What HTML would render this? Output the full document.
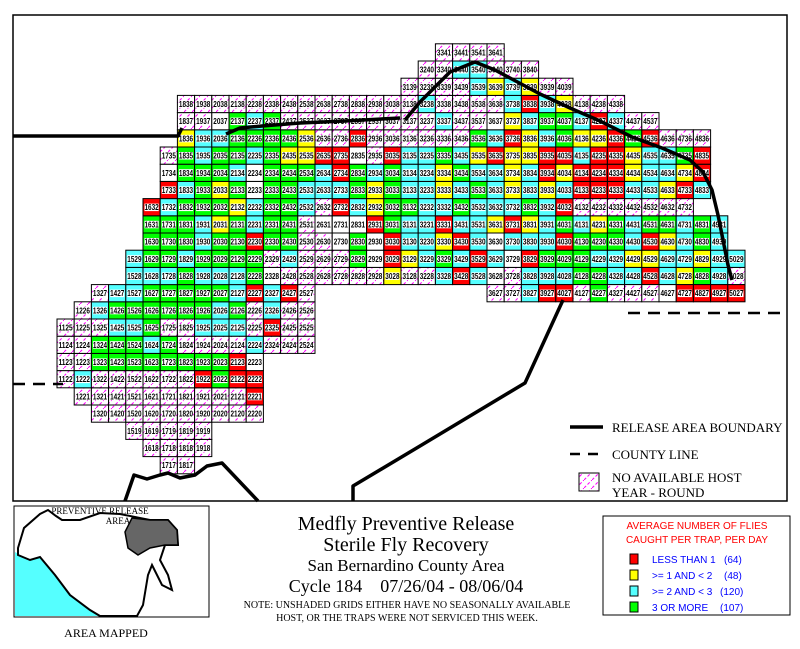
<!DOCTYPE html>
<html><head><meta charset="utf-8"><style>
body{margin:0;background:#fff;width:800px;height:649px;overflow:hidden}
svg{display:block}
</style></head><body>
<svg id="s" width="800" height="649" xmlns="http://www.w3.org/2000/svg" font-family="Liberation Serif, serif">
<defs>
<pattern id="h" width="8" height="8" patternUnits="userSpaceOnUse">
<rect width="8" height="8" fill="#fff"/>
<line x1="0" y1="8" x2="8" y2="0" stroke="#ff00ff" stroke-width="1" stroke-dasharray="3,2"/>
</pattern>
</defs>
<rect x="13" y="15" width="774" height="486" fill="none" stroke="#000" stroke-width="1.5"/>
<g id="grid"></g>
<g fill="none" stroke="#000" stroke-width="3.5" stroke-linejoin="round">
<polyline points="13,136 178,136 182,128"/>
<polyline points="226,134 240,128 262,126 300,123 345,121 400,118"/>
<polyline points="405,120 420,102 450,72 475,62 495,70 525,86 540,94 570,108 600,121 632,137 662,148 690,160 703,172 712,190 718,215 724,245 728,265 732,280"/>
<polyline points="125,501 134,475 147,479 160,475 168,473 180,478 195,475 207,466 222,463 258,501"/>
<polyline points="353,501 353,486 420,446 525,383 563,300"/>
</g>
<g stroke="#000" stroke-width="2.5" stroke-dasharray="12,8">
<line x1="13" y1="384" x2="63" y2="384"/>
<line x1="628" y1="313" x2="787" y2="313"/>
</g>
<line x1="570" y1="427" x2="603" y2="427" stroke="#000" stroke-width="3.5"/>
<line x1="570" y1="454" x2="603" y2="454" stroke="#000" stroke-width="2.5" stroke-dasharray="10,8"/>
<rect x="579" y="473" width="20" height="18" fill="url(#h)" stroke="#000"/>
<g font-size="13">
<text x="612" y="432">RELEASE AREA BOUNDARY</text>
<text x="612" y="459">COUNTY LINE</text>
<text x="612" y="482">NO AVAILABLE HOST</text>
<text x="612" y="497">YEAR - ROUND</text>
</g>
<!-- inset -->
<rect x="14" y="506" width="195" height="111" fill="#fff" stroke="#000"/>
<path d="M15,552 L30,560 L40,557 L55,575 L70,595 L90,610 L100,616 L15,616 Z" fill="#55ffff"/>
<path d="M18,548 L24,528 L40,514 L48,510 L56,516 L62,520 L80,520 L100,513 L120,514 L150,520 L168,520 L177,530 L178,545 L165,545 L160,560 L168,575 L172,590 L162,585 L152,565 L148,575 L143,605 L137,616 L100,616 L90,610 L70,595 L55,575 L40,557 L30,560 L18,555 Z" fill="#fff" stroke="#000" stroke-width="2"/>
<path d="M125,532 L132,518 L150,520 L168,520 L177,530 L178,545 L165,545 L150,548 L138,555 L128,548 Z" fill="#666" stroke="#000" stroke-width="1.5"/>
<text x="100" y="514" font-size="9" text-anchor="middle">PREVENTIVE RELEASE</text>
<text x="118" y="524" font-size="9" text-anchor="middle">AREA</text>
<text x="106" y="637" font-size="12" text-anchor="middle">AREA MAPPED</text>
<g text-anchor="middle">
<text x="406" y="530" font-size="20">Medfly Preventive Release</text>
<text x="406" y="551" font-size="20">Sterile Fly Recovery</text>
<text x="406" y="571" font-size="17">San Bernardino County Area</text>
<text x="406" y="592" font-size="18">Cycle 184 &#160;&#160; 07/26/04 - 08/06/04</text>
<text x="407" y="608" font-size="10">NOTE: UNSHADED GRIDS EITHER HAVE NO SEASONALLY AVAILABLE</text>
<text x="407" y="621" font-size="10">HOST, OR THE TRAPS WERE NOT SERVICED THIS WEEK.</text>
</g>
<rect x="603" y="516" width="187" height="99" fill="#fff" stroke="#000"/>
<g font-family="Liberation Sans, sans-serif" font-size="10">
<text x="697" y="529" fill="#ff0000" text-anchor="middle">AVERAGE NUMBER OF FLIES</text>
<text x="697" y="543" fill="#ff0000" text-anchor="middle">CAUGHT PER TRAP, PER DAY</text>
<g fill="#0000ff">
<text x="652" y="563">LESS THAN 1</text><text x="724" y="563">(64)</text>
<text x="652" y="579">&gt;= 1 AND &lt; 2</text><text x="724" y="579">(48)</text>
<text x="652" y="595">&gt;= 2 AND &lt; 3</text><text x="720" y="595">(120)</text>
<text x="652" y="611">3 OR MORE</text><text x="720" y="611">(107)</text>
</g>
</g>
<rect x="630" y="554" width="8" height="10" fill="#f00" stroke="#000"/>
<rect x="630" y="570" width="8" height="10" fill="#ff0" stroke="#000"/>
<rect x="630" y="586" width="8" height="10" fill="#5ff" stroke="#000"/>
<rect x="630" y="602" width="8" height="10" fill="#0f0" stroke="#000"/>
</svg>
<script>
var rows={
41:[33,"hhhh"],40:[32,"hhcchhh"],39:[31,"hhhhcycyhh"],
38:[18,"hhhhhhhhhhhhhhchhhhcrcyhhh"],
37:[18,"hhwgcghhhhhhhhhchhwycggcrchh"],
36:[18,"yccggggyhhrhhhhhhgcrycgyyrgrhhh"],
35:[17,"hgcggcgyyrrwhrccgcyryyrrcrryccgr"],
34:[17,"wgggcwgggcrgcgccygccycryrrryccyr"],
33:[17,"rcgygwggcccgygccycgcycycrrrccyrc"],
32:[16,"rcgggycggchrcyggccgcccgcrhhhhhhh"],
31:[16,"gggcygcgghwwwrgccrccyrycgcygcggcgc"],
30:[16,"gggcggrgghhwgwrccyrcwcccrgggcrycgc"],
29:[15,"cggcgggghchhhgwrycgcrcwrgggccyyccycc"],
28:[15,"cccgcccgwhhhhhhyhhcrcwhcccggccrcygch"],
27:[13,"hccgggggcrcrh"],
26:[12,"hcggggggcghchh"],
25:[11,"hhhccghhccchrhh"],
24:[11,"hhgggcghhhhchhh"],
23:[11,"hhggggggggrw"],
22:[11,"hchhhhhhrgrr"],
21:[12,"hhhhhhhhhhr"],
20:[13,"hhhhhhhhhh"],
19:[15,"hhhhh"],18:[16,"hhhh"],17:[17,"hh"]};
var extra={27:[36,"hhcrrhghhhwrrrr"]};
var col={h:"url(#h)",w:"#fff",r:"#ff0000",y:"#ffff00",c:"#55ffff",g:"#00ff00"};
var S=17.2,g=document.getElementById("grid"),out="";
function cell(c,r,k){
 var x=186+(c-18)*S-S/2,y=104+(38-r)*S-S/2;
 out+='<rect x="'+x.toFixed(1)+'" y="'+y.toFixed(1)+'" width="'+S+'" height="'+S+'" fill="'+col[k]+'" stroke="#000" stroke-width="1"/>';
 out+='<rect x="'+(x+1.5).toFixed(1)+'" y="'+(y+5).toFixed(1)+'" width="'+(S-3)+'" height="7.5" fill="#fff"/>';
 out+='<text x="'+(x+S/2).toFixed(1)+'" y="'+(y+11.6).toFixed(1)+'" font-family="Liberation Sans, sans-serif" font-size="8" font-weight="bold" text-anchor="middle" textLength="'+(S-3)+'" lengthAdjust="spacingAndGlyphs">'+c+r+'</text>';
}
function run(o){for(var r in o){var s=o[r][0],str=o[r][1];for(var i=0;i<str.length;i++)cell(s+i,+r,str[i]);}}
run(rows);run(extra);
g.innerHTML=out;
</script>
</body></html>
